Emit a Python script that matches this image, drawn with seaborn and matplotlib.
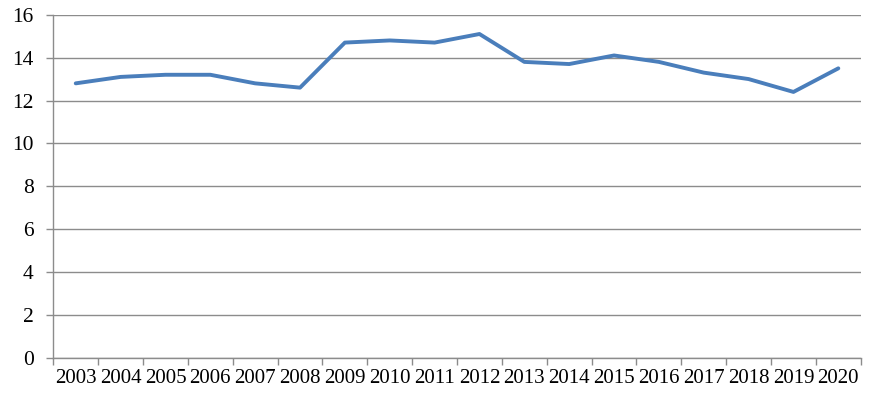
import numpy as np
import pandas as pd
import seaborn as sns
import matplotlib.pyplot as plt
from matplotlib.ticker import FixedLocator

# values
years = [str(y) for y in range(2003, 2021)]
values = [12.8, 13.1, 13.2, 13.2, 12.8, 12.6, 14.7, 14.8, 14.7, 15.1,
          13.8, 13.7, 14.1, 13.8, 13.3, 13.0, 12.4, 13.5]
y_ticks = [0, 2, 4, 6, 8, 10, 12, 14, 16]

df = pd.DataFrame({'year': years, 'value': values})

sns.set_theme(style='white')
plt.rcParams['font.family'] = ['Liberation Serif', 'DejaVu Serif']

fig = plt.figure(figsize=(8.84, 3.95), dpi=100)
ax = fig.add_axes([0.0603, 0.0937, 0.9134, 0.8691])

sns.lineplot(data=df, x='year', y='value', ax=ax, color='#4a7ebb',
             linewidth=2.8, sort=False)

grid_col = '#8c8c8c'
ax.set_xlim(-0.5, len(years) - 0.5)
ax.set_ylim(0, 16)
ax.set_yticks(y_ticks)
ax.yaxis.grid(True, color=grid_col, linewidth=1.0)
ax.xaxis.grid(False)
ax.set_axisbelow(True)

for side in ['top', 'right']:
    ax.spines[side].set_visible(False)
for side in ['left', 'bottom']:
    ax.spines[side].set_color(grid_col)
    ax.spines[side].set_linewidth(1.0)

# tick marks on category boundaries, labels centred
ax.set_xticks(range(len(years)))
ax.set_xticklabels(years)
ax.xaxis.set_minor_locator(FixedLocator(np.arange(-0.5, len(years), 1.0)))
ax.tick_params(axis='x', which='major', length=0, pad=8, labelsize=15,
               colors='black')
ax.tick_params(axis='x', which='minor', length=5, width=1.0, color=grid_col,
               bottom=True, direction='out')
ax.tick_params(axis='y', length=5, width=1.0, color=grid_col, left=True,
               direction='out', labelsize=15.5, pad=9, labelcolor='black')

ax.set_xlabel('')
ax.set_ylabel('')

fig.savefig('out.png', dpi=100)
